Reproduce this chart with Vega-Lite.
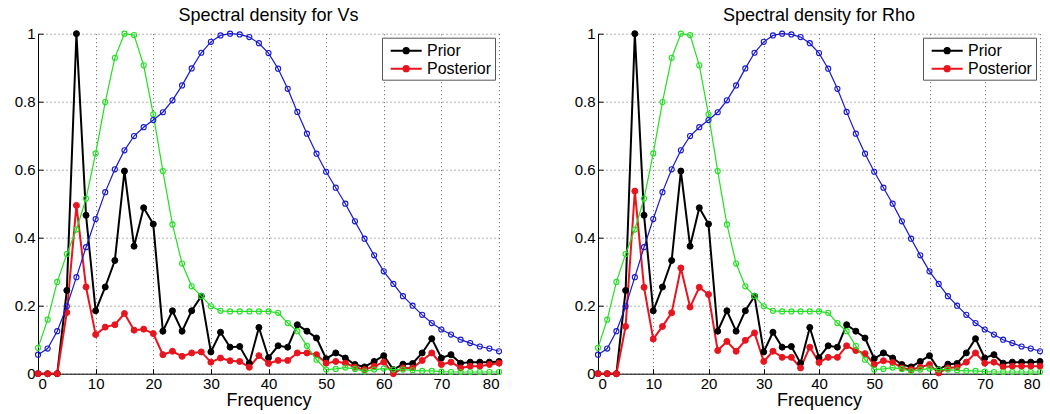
{
  "$schema": "https://vega.github.io/schema/vega-lite/v6.json",
  "background": "white",
  "padding": {"left": 14, "top": 6.7, "right": 2, "bottom": 2},
  "spacing": 70,
  "config": {
    "view": {"stroke": null},
    "font": "Liberation Sans",
    "axis": {
      "domainColor": "#000", "domainWidth": 1, "tickColor": "#000", "tickSize": -5, "tickWidth": 1,
      "labelFont": "Liberation Sans", "labelFontSize": 15, "labelColor": "#000", "labelPadding": 8,
      "gridColor": "#666", "gridDash": [1, 3], "gridOpacity": 1, "gridWidth": 1,
      "titleFont": "Liberation Sans", "titleFontSize": 18, "titleFontWeight": "normal", "titleColor": "#000", "titlePadding": 0
    },
    "title": {"font": "Liberation Sans", "fontSize": 18, "fontWeight": "normal", "color": "#000", "frame": "group", "offset": 1.8},
    "legend": {
      "orient": "top-right", "offset": 4, "padding": 3, "strokeColor": "#555", "fillColor": "white",
      "labelFont": "Liberation Sans", "labelFontSize": 16, "labelColor": "#000", "labelOffset": 22,
      "symbolType": "M-0.48,0L2.97,0M0.95,0A0.29,0.29,0,1,0,1.53,0A0.29,0.29,0,1,0,0.95,0Z",
      "symbolSize": 324, "symbolStrokeWidth": 2, "rowPadding": 0, "title": null
    }
  },
  "data": {"values": [
    {"f": 0, "Prior": 0, "PostVs": 0, "PostRho": 0, "G": 0.076, "B": 0.056},
    {"f": 1.667, "Prior": 0, "PostVs": 0, "PostRho": 0, "G": 0.159, "B": 0.074},
    {"f": 3.333, "Prior": 0, "PostVs": 0, "PostRho": 0, "G": 0.27, "B": 0.125},
    {"f": 5, "Prior": 0.245, "PostVs": 0.18, "PostRho": 0.139, "G": 0.352, "B": 0.198},
    {"f": 6.667, "Prior": 1.0, "PostVs": 0.495, "PostRho": 0.537, "G": 0.424, "B": 0.284},
    {"f": 8.333, "Prior": 0.466, "PostVs": 0.255, "PostRho": 0.254, "G": 0.515, "B": 0.372},
    {"f": 10, "Prior": 0.185, "PostVs": 0.115, "PostRho": 0.102, "G": 0.648, "B": 0.455},
    {"f": 11.667, "Prior": 0.255, "PostVs": 0.137, "PostRho": 0.139, "G": 0.799, "B": 0.534},
    {"f": 13.333, "Prior": 0.333, "PostVs": 0.144, "PostRho": 0.179, "G": 0.929, "B": 0.601},
    {"f": 15, "Prior": 0.596, "PostVs": 0.177, "PostRho": 0.311, "G": 1.0, "B": 0.657},
    {"f": 16.667, "Prior": 0.375, "PostVs": 0.128, "PostRho": 0.196, "G": 0.996, "B": 0.699},
    {"f": 18.333, "Prior": 0.488, "PostVs": 0.131, "PostRho": 0.254, "G": 0.907, "B": 0.725},
    {"f": 20, "Prior": 0.44, "PostVs": 0.118, "PostRho": 0.233, "G": 0.763, "B": 0.746},
    {"f": 21.667, "Prior": 0.125, "PostVs": 0.056, "PostRho": 0.068, "G": 0.596, "B": 0.769},
    {"f": 23.333, "Prior": 0.185, "PostVs": 0.066, "PostRho": 0.095, "G": 0.439, "B": 0.804},
    {"f": 25, "Prior": 0.125, "PostVs": 0.051, "PostRho": 0.066, "G": 0.324, "B": 0.848},
    {"f": 26.667, "Prior": 0.185, "PostVs": 0.061, "PostRho": 0.098, "G": 0.257, "B": 0.898},
    {"f": 28.333, "Prior": 0.228, "PostVs": 0.064, "PostRho": 0.12, "G": 0.228, "B": 0.944},
    {"f": 30, "Prior": 0.064, "PostVs": 0.034, "PostRho": 0.036, "G": 0.198, "B": 0.976},
    {"f": 31.667, "Prior": 0.122, "PostVs": 0.046, "PostRho": 0.066, "G": 0.185, "B": 0.995},
    {"f": 33.333, "Prior": 0.078, "PostVs": 0.038, "PostRho": 0.048, "G": 0.183, "B": 1.0},
    {"f": 35, "Prior": 0.08, "PostVs": 0.036, "PostRho": 0.048, "G": 0.183, "B": 0.998},
    {"f": 36.667, "Prior": 0.031, "PostVs": 0.019, "PostRho": 0.017, "G": 0.183, "B": 0.99},
    {"f": 38.333, "Prior": 0.136, "PostVs": 0.053, "PostRho": 0.078, "G": 0.183, "B": 0.972},
    {"f": 40, "Prior": 0.047, "PostVs": 0.03, "PostRho": 0.033, "G": 0.183, "B": 0.943},
    {"f": 41.667, "Prior": 0.082, "PostVs": 0.039, "PostRho": 0.048, "G": 0.179, "B": 0.897},
    {"f": 43.333, "Prior": 0.078, "PostVs": 0.039, "PostRho": 0.048, "G": 0.149, "B": 0.838},
    {"f": 45, "Prior": 0.144, "PostVs": 0.061, "PostRho": 0.082, "G": 0.125, "B": 0.77},
    {"f": 46.667, "Prior": 0.125, "PostVs": 0.061, "PostRho": 0.068, "G": 0.082, "B": 0.706},
    {"f": 48.333, "Prior": 0.105, "PostVs": 0.056, "PostRho": 0.059, "G": 0.041, "B": 0.647},
    {"f": 50, "Prior": 0.044, "PostVs": 0.031, "PostRho": 0.027, "G": 0.012, "B": 0.594},
    {"f": 51.667, "Prior": 0.061, "PostVs": 0.036, "PostRho": 0.038, "G": 0.014, "B": 0.547},
    {"f": 53.333, "Prior": 0.046, "PostVs": 0.031, "PostRho": 0.033, "G": 0.018, "B": 0.5},
    {"f": 55, "Prior": 0.027, "PostVs": 0.019, "PostRho": 0.017, "G": 0.014, "B": 0.448},
    {"f": 56.667, "Prior": 0.02, "PostVs": 0.012, "PostRho": 0.012, "G": 0.007, "B": 0.397},
    {"f": 58.333, "Prior": 0.036, "PostVs": 0.022, "PostRho": 0.019, "G": 0.012, "B": 0.348},
    {"f": 60, "Prior": 0.053, "PostVs": 0.034, "PostRho": 0.027, "G": 0.015, "B": 0.301},
    {"f": 61.667, "Prior": 0.012, "PostVs": 0, "PostRho": 0.002, "G": 0.012, "B": 0.264},
    {"f": 63.333, "Prior": 0.028, "PostVs": 0.017, "PostRho": 0.017, "G": 0.012, "B": 0.228},
    {"f": 65, "Prior": 0.03, "PostVs": 0.017, "PostRho": 0.019, "G": 0.01, "B": 0.2},
    {"f": 66.667, "Prior": 0.061, "PostVs": 0.039, "PostRho": 0.034, "G": 0.008, "B": 0.173},
    {"f": 68.333, "Prior": 0.103, "PostVs": 0.061, "PostRho": 0.061, "G": 0.008, "B": 0.149},
    {"f": 70, "Prior": 0.046, "PostVs": 0.027, "PostRho": 0.031, "G": 0.006, "B": 0.13},
    {"f": 71.667, "Prior": 0.056, "PostVs": 0.034, "PostRho": 0.034, "G": 0.005, "B": 0.115},
    {"f": 73.333, "Prior": 0.031, "PostVs": 0.017, "PostRho": 0.02, "G": 0.005, "B": 0.1},
    {"f": 75, "Prior": 0.034, "PostVs": 0.022, "PostRho": 0.022, "G": 0.005, "B": 0.09},
    {"f": 76.667, "Prior": 0.034, "PostVs": 0.022, "PostRho": 0.022, "G": 0.005, "B": 0.08},
    {"f": 78.333, "Prior": 0.034, "PostVs": 0.027, "PostRho": 0.022, "G": 0.005, "B": 0.074},
    {"f": 80, "Prior": 0.036, "PostVs": 0.031, "PostRho": 0.022, "G": 0.005, "B": 0.066}
  ]},
  "resolve": {"scale": {"fill": "independent", "stroke": "independent"}, "legend": {"fill": "independent", "stroke": "independent"}},
  "hconcat": [
    {
      "width": 461, "height": 340,
      "title": "Spectral density for Vs",
      "encoding": {
        "x": {"field": "f", "type": "quantitative", "scale": {"domain": [0, 80], "nice": false},
              "axis": {"values": [0, 10, 20, 30, 40, 50, 60, 70, 80], "title": "Frequency"}},
        "y": {"type": "quantitative", "scale": {"domain": [0, 1], "nice": false},
              "axis": {"values": [0, 0.2, 0.4, 0.6, 0.8, 1], "format": "~g", "title": null}}
      },
      "layer": [
        {"mark": {"type": "line", "color": "#000000", "strokeWidth": 2}, "encoding": {"y": {"field": "Prior"}}},
        {"mark": {"type": "line", "color": "#e8141e", "strokeWidth": 2}, "encoding": {"y": {"field": "PostVs"}}},
        {
          "transform": [{"fold": ["Prior", "PostVs"], "as": ["series", "val"]}],
          "mark": {"type": "point", "filled": true, "size": 36, "opacity": 1, "strokeWidth": 1},
          "encoding": {
            "y": {"field": "val"},
            "fill": {"field": "series", "type": "nominal", "scale": {"domain": ["Prior", "PostVs"], "range": ["#000000", "#e8141e"]},
                     "legend": {"labelExpr": "datum.label == 'Prior' ? 'Prior' : 'Posterior'"}},
            "stroke": {"field": "series", "type": "nominal", "scale": {"domain": ["Prior", "PostVs"], "range": ["#000000", "#e8141e"]},
                     "legend": {"labelExpr": "datum.label == 'Prior' ? 'Prior' : 'Posterior'"}}
          }
        },
        {"mark": {"type": "line", "color": "#22e022", "strokeWidth": 1.2, "point": {"filled": false, "size": 26, "strokeWidth": 1.1, "opacity": 1, "color": "#22e022"}}, "encoding": {"y": {"field": "G"}}},
        {"mark": {"type": "line", "color": "#1818d0", "strokeWidth": 1.2, "point": {"filled": false, "size": 26, "strokeWidth": 1.1, "opacity": 1, "color": "#1818d0"}}, "encoding": {"y": {"field": "B"}}}
      ]
    },
    {
      "width": 442, "height": 340,
      "title": "Spectral density for Rho",
      "encoding": {
        "x": {"field": "f", "type": "quantitative", "scale": {"domain": [0, 80], "nice": false},
              "axis": {"values": [0, 10, 20, 30, 40, 50, 60, 70, 80], "title": "Frequency"}},
        "y": {"type": "quantitative", "scale": {"domain": [0, 1], "nice": false},
              "axis": {"values": [0, 0.2, 0.4, 0.6, 0.8, 1], "format": "~g", "title": null}}
      },
      "layer": [
        {"mark": {"type": "line", "color": "#000000", "strokeWidth": 2}, "encoding": {"y": {"field": "Prior"}}},
        {"mark": {"type": "line", "color": "#e8141e", "strokeWidth": 2}, "encoding": {"y": {"field": "PostRho"}}},
        {
          "transform": [{"fold": ["Prior", "PostRho"], "as": ["series", "val"]}],
          "mark": {"type": "point", "filled": true, "size": 36, "opacity": 1, "strokeWidth": 1},
          "encoding": {
            "y": {"field": "val"},
            "fill": {"field": "series", "type": "nominal", "scale": {"domain": ["Prior", "PostRho"], "range": ["#000000", "#e8141e"]},
                     "legend": {"labelExpr": "datum.label == 'Prior' ? 'Prior' : 'Posterior'"}},
            "stroke": {"field": "series", "type": "nominal", "scale": {"domain": ["Prior", "PostRho"], "range": ["#000000", "#e8141e"]},
                     "legend": {"labelExpr": "datum.label == 'Prior' ? 'Prior' : 'Posterior'"}}
          }
        },
        {"mark": {"type": "line", "color": "#22e022", "strokeWidth": 1.2, "point": {"filled": false, "size": 26, "strokeWidth": 1.1, "opacity": 1, "color": "#22e022"}}, "encoding": {"y": {"field": "G"}}},
        {"mark": {"type": "line", "color": "#1818d0", "strokeWidth": 1.2, "point": {"filled": false, "size": 26, "strokeWidth": 1.1, "opacity": 1, "color": "#1818d0"}}, "encoding": {"y": {"field": "B"}}}
      ]
    }
  ]
}
